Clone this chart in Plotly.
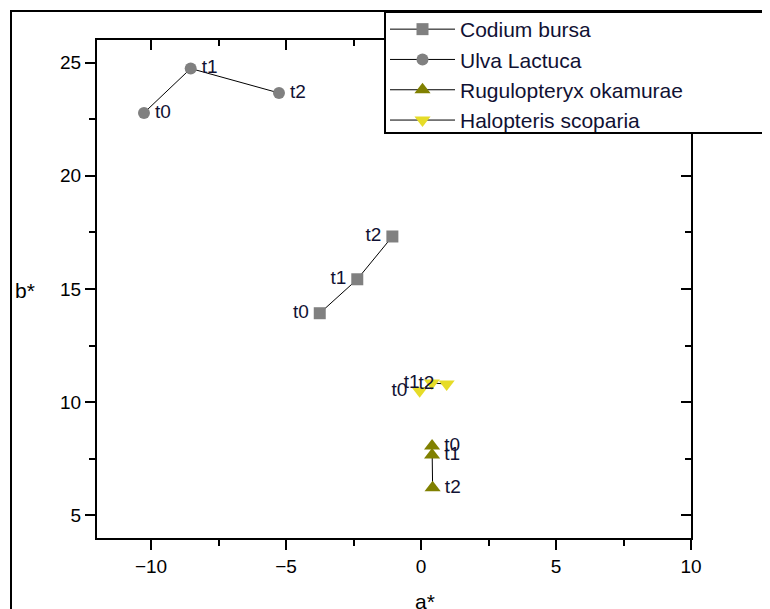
import plotly.graph_objects as go

# ---- data ----
labels = ["t0", "t1", "t2"]
codium_a = [-3.75, -2.36, -1.06]
codium_b = [13.93, 15.43, 17.32]
ulva_a = [-10.26, -8.53, -5.26]
ulva_b = [22.78, 24.74, 23.66]
rugulo_a = [0.41, 0.41, 0.43]
rugulo_b = [8.06, 7.67, 6.22]
halop_a = [-0.05, 0.4, 0.95]
halop_b = [10.5, 10.85, 10.8]

series = [
    ("Codium bursa", codium_a, codium_b, "square", "#808080", 12, "middle left"),
    ("Ulva Lactuca", ulva_a, ulva_b, "circle", "#808080", 12, "middle right"),
    ("Rugulopteryx okamurae", rugulo_a, rugulo_b, "triangle-up", "#808000", 14, "middle right"),
    ("Halopteris scoparia", halop_a, halop_b, "triangle-down", "#E6DC28", 14, "middle left"),
]

fig = go.Figure()
for name, xs, ys, sym, col, sz, tpos in series:
    fig.add_trace(go.Scatter(
        x=xs, y=ys, mode="lines+markers", name=name,
        line=dict(color="black", width=1),
        marker=dict(symbol=sym, color=col, size=sz, line=dict(width=0)),
    ))
for name, xs, ys, sym, col, sz, tpos in series:
    fig.add_trace(go.Scatter(
        x=xs, y=ys, mode="markers+text", text=labels, textposition=tpos,
        marker=dict(size=sz + 4, opacity=0),
        textfont=dict(family="Liberation Sans, Arial", size=19, color="#111133"),
        showlegend=False, hoverinfo="skip",
    ))

# invisible trace to host mirrored (inward-tick) axes
fig.add_trace(go.Scatter(x=[None], y=[None], xaxis="x2", yaxis="y2",
                         showlegend=False, hoverinfo="skip"))

font_ax = dict(family="Liberation Sans, Arial", size=19, color="black")
xr = [-12, 10]
yr = [4, 26]

# page body adds an 8px offset; figure coords = window coords - 8
W, H = 762, 601
L, R, T, B = 89, 683, 32, 530
PW, PH = R - L, B - T


def px(fx):
    return (fx - L) / PW


def py(fy):
    return (B - fy) / PH


fig.update_layout(
    width=W, height=H,
    margin=dict(l=L, r=W - R, t=T, b=H - B, autoexpand=False),
    paper_bgcolor="white", plot_bgcolor="white",
    font=font_ax,
    xaxis=dict(range=xr, dtick=5, tick0=0, ticks="outside", ticklen=10, tickwidth=2,
               tickcolor="black", showgrid=False, zeroline=False,
               showline=True, linewidth=2, linecolor="black", mirror=True,
               tickfont=font_ax,
               minor=dict(dtick=2.5, tick0=0, ticks="outside", ticklen=6, tickwidth=2,
                          tickcolor="black", showgrid=False)),
    yaxis=dict(range=yr, dtick=5, tick0=0, ticks="outside", ticklen=10, tickwidth=2,
               tickcolor="black", showgrid=False, zeroline=False,
               showline=True, linewidth=2, linecolor="black", mirror=True,
               tickfont=font_ax,
               minor=dict(dtick=2.5, tick0=0, ticks="outside", ticklen=6, tickwidth=2,
                          tickcolor="black", showgrid=False)),
    xaxis2=dict(range=xr, overlaying="x", side="top", anchor="y2", dtick=5, tick0=0,
                ticks="inside", ticklen=10, tickwidth=2, tickcolor="black",
                showticklabels=False, showgrid=False, zeroline=False, showline=False,
                minor=dict(dtick=2.5, tick0=0, ticks="inside", ticklen=6, tickwidth=2,
                           tickcolor="black", showgrid=False)),
    yaxis2=dict(range=yr, overlaying="y", side="right", anchor="x2", dtick=5, tick0=0,
                ticks="inside", ticklen=10, tickwidth=2, tickcolor="black",
                showticklabels=False, showgrid=False, zeroline=False, showline=False,
                minor=dict(dtick=2.5, tick0=0, ticks="inside", ticklen=6, tickwidth=2,
                           tickcolor="black", showgrid=False)),
    legend=dict(x=px(377), y=py(1), xanchor="left", yanchor="top",
                bgcolor="rgba(0,0,0,0)", borderwidth=0,
                font=dict(family="Liberation Sans, Arial", size=21, color="#111133"),
                tracegroupgap=0, itemwidth=65),
    showlegend=True,
)

# outer frame
fig.add_shape(type="rect", xref="paper", yref="paper",
              x0=px(3), x1=px(790), y0=py(620), y1=py(3),
              line=dict(color="black", width=2), fillcolor="rgba(0,0,0,0)", layer="below")
# legend box
fig.add_shape(type="rect", xref="paper", yref="paper",
              x0=px(377), x1=px(800), y0=py(125), y1=py(4),
              line=dict(color="black", width=2), fillcolor="white", layer="above")

# axis titles
fig.add_annotation(text="b*", xref="paper", yref="paper",
                   x=px(17), y=py(282), xanchor="center", yanchor="middle", showarrow=False,
                   font=dict(family="Liberation Sans, Arial", size=21, color="black"))
fig.add_annotation(text="a*", xref="paper", yref="paper",
                   x=px(417), y=py(580), xanchor="center", yanchor="top", showarrow=False,
                   font=dict(family="Liberation Sans, Arial", size=21, color="black"))

fig.write_html("out.html")
